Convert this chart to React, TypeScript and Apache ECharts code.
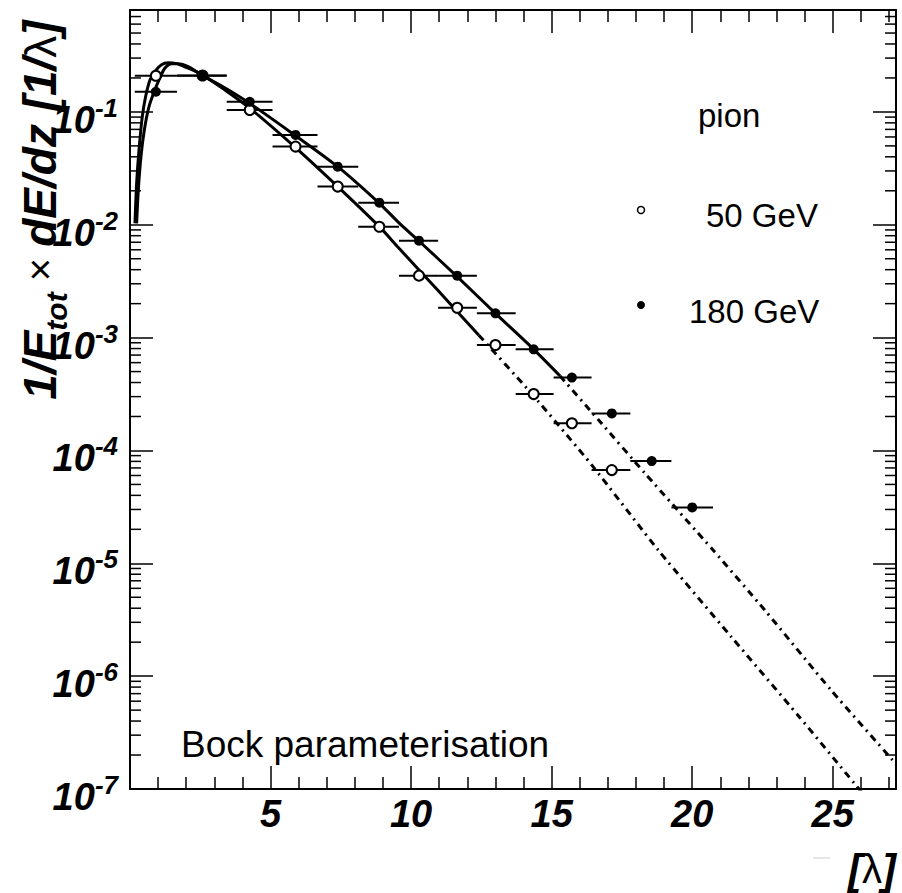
import React, { useEffect, useRef } from "react";
import * as echarts from "echarts";

// ---------- data ----------
const xTickLabels = ["5", "10", "15", "20", "25"];
const yExponents = [-7, -6, -5, -4, -3, -2, -1];
const minorMultipliers = [2, 3, 4, 5, 6, 7, 8, 9];

// bin edges (lambda) of the measured points
const binLow = [0.17, 1.67, 3.44, 5.07, 6.67, 8.12, 9.57, 10.96, 12.34, 13.72, 15.07, 16.42, 17.8, 19.26];
const binHigh = [1.67, 3.44, 5.07, 6.67, 8.12, 9.57, 10.96, 12.34, 13.72, 15.07, 16.42, 17.8, 19.26, 20.74];
const binCenter = [0.92, 2.58, 4.26, 5.89, 7.39, 8.87, 10.28, 11.64, 13.0, 14.36, 15.72, 17.14, 18.56, 20.0];

// 180 GeV (filled) data
const y180 = [0.151, 0.209, 0.123, 0.0625, 0.0327, 0.0157, 0.00723, 0.00354, 0.00164, 0.000787, 0.000442, 0.000213, 0.0000805, 0.0000313];
// 50 GeV (open) data
const y50 = [0.209, 0.21, 0.104, 0.0493, 0.0218, 0.0096, 0.00354, 0.00184, 0.000859, 0.000316, 0.000174, 0.000067];

// Bock parameterisation curves
const bock50SolidX = [0.177, 0.236, 0.32, 0.437, 0.556, 0.71, 0.887, 1.12, 1.36, 1.65, 1.95, 2.54, 3.4, 4.26, 5.85, 7.39, 8.87, 9.57, 10.96, 12.41];
const bock50SolidY = [0.0103, 0.0233, 0.046, 0.0908, 0.137, 0.192, 0.229, 0.262, 0.272, 0.268, 0.251, 0.215, 0.155, 0.108, 0.0493, 0.0218, 0.00962, 0.00619, 0.00261, 0.00105];
const bock50DotX = [12.41, 14.3, 16.43, 18.79, 21.39, 23.76, 25.77, 26.1];
const bock50DotY = [0.00105, 0.000316, 0.0000741, 0.0000131, 0.00000223, 0.000000451, 0.000000112, 0.000000089];

const bock180SolidX = [0.236, 0.296, 0.39, 0.51, 0.674, 0.887, 1.06, 1.24, 1.48, 1.71, 2.07, 2.54, 3.4, 4.26, 5.85, 7.39, 8.87, 9.57, 10.28, 11.64, 13.0, 14.36, 15.3];
const bock180SolidY = [0.0103, 0.0204, 0.0402, 0.0692, 0.111, 0.157, 0.199, 0.244, 0.267, 0.267, 0.252, 0.213, 0.162, 0.119, 0.0625, 0.0327, 0.0155, 0.0104, 0.00718, 0.00347, 0.00164, 0.000787, 0.000457];
const bock180DotX = [15.3, 16.67, 18.32, 20.74, 22.58, 24.94, 27.13, 27.25];
const bock180DotY = [0.000457, 0.000186, 0.0000627, 0.0000131, 0.00000385, 0.000000752, 0.00000018, 0.000000166];

const X_MIN = 0;
const X_MAX = 27.25;
const Y_MIN = 1e-7;
const Y_MAX = 0.8;

const FONT = '"Liberation Sans", Arial, Helvetica, sans-serif';

function zip(xs: number[], ys: number[]) {
  return xs.map((x, i) => [x, ys[i]]);
}

export default function App() {
  const ref = useRef<HTMLDivElement>(null);

  useEffect(() => {
    if (!ref.current) return;
    const chart = echarts.init(ref.current, null, { renderer: "svg" });

    const minorTicks: number[][] = [];
    yExponents.forEach((e) => {
      minorMultipliers.forEach((m) => {
        const v = m * Math.pow(10, e);
        if (v < Y_MAX) minorTicks.push([X_MIN, v]);
      });
    });

    const errBars180 = y180.map((y, i) => [binLow[i], binHigh[i], y]);
    const errBars50 = y50.map((y, i) => [binLow[i], binHigh[i], y]);

    const errRender = (params: any, api: any) => {
      const p1 = api.coord([api.value(0), api.value(2)]);
      const p2 = api.coord([api.value(1), api.value(2)]);
      return {
        type: "line",
        shape: { x1: p1[0], y1: p1[1], x2: p2[0], y2: p2[1] },
        style: { stroke: "#000", lineWidth: 2 },
      };
    };

    const xAxisBase = {
      type: "value",
      min: X_MIN,
      max: X_MAX,
      interval: 5,
      splitLine: { show: false },
      axisLine: { show: true, onZero: false, lineStyle: { color: "#000", width: 2 } },
      axisTick: { show: true, inside: true, length: 23, lineStyle: { color: "#000", width: 1.5 } },
      minorTick: { show: true, splitNumber: 5, length: 12, lineStyle: { color: "#000", width: 1.5 } },
    };

    const yAxisBase = {
      type: "log",
      logBase: 10,
      min: Y_MIN,
      max: Y_MAX,
      splitLine: { show: false },
      axisLine: { show: true, onZero: false, lineStyle: { color: "#000", width: 2 } },
      axisTick: { show: true, inside: true, length: 23, lineStyle: { color: "#000", width: 1.5 } },
    };

    const option: any = {
      animation: false,
      backgroundColor: "#fff",
      grid: { left: 130, right: 6, top: 10, bottom: 104, containLabel: false },
      xAxis: [
        {
          ...xAxisBase,
          position: "bottom",
          axisLabel: {
            show: true,
            margin: 6,
            color: "#000",
            fontFamily: FONT,
            fontSize: 38,
            fontWeight: "bold",
            fontStyle: "italic",
            formatter: (v: number) => {
              const s = String(Math.round(v));
              return Math.abs(v - Math.round(v)) < 1e-6 && xTickLabels.includes(s) ? s : "";
            },
          },
        },
        { ...xAxisBase, position: "top", axisLabel: { show: false } },
      ],
      yAxis: [
        {
          ...yAxisBase,
          position: "left",
          axisLabel: {
            show: true,
            margin: 12,
            color: "#000",
            padding: [16, 0, 0, 0],
            formatter: (v: number) => {
              const e = Math.log10(v);
              const r = Math.round(e);
              if (Math.abs(e - r) > 0.01 || !yExponents.includes(r)) return "";
              return `{b|10}{s|${r}}`;
            },
            rich: {
              b: { fontFamily: FONT, fontSize: 38, fontWeight: "bold", fontStyle: "italic", color: "#000", lineHeight: 50 },
              s: { fontFamily: FONT, fontSize: 26, fontWeight: "bold", fontStyle: "italic", color: "#000", lineHeight: 22, verticalAlign: "top" },
            },
          },
        },
        { ...yAxisBase, position: "right", axisLabel: { show: false } },
      ],
      series: [
        {
          type: "custom",
          name: "yMinor",
          silent: true,
          xAxisIndex: 0,
          yAxisIndex: 0,
          data: minorTicks,
          encode: { x: 0, y: 1 },
          clip: false,
          renderItem: (params: any, api: any) => {
            const cs = params.coordSys;
            const p = api.coord([X_MIN, api.value(1)]);
            return {
              type: "group",
              children: [
                { type: "line", shape: { x1: cs.x, y1: p[1], x2: cs.x + 11, y2: p[1] }, style: { stroke: "#000", lineWidth: 1.5 } },
                { type: "line", shape: { x1: cs.x + cs.width - 11, y1: p[1], x2: cs.x + cs.width, y2: p[1] }, style: { stroke: "#000", lineWidth: 1.5 } },
              ],
            };
          },
        },
        {
          type: "line",
          name: "Bock 50 solid",
          data: zip(bock50SolidX, bock50SolidY),
          showSymbol: false,
          smooth: 0.3,
          lineStyle: { color: "#000", width: 3 },
          z: 3,
        },
        {
          type: "line",
          name: "Bock 50 dotted",
          data: zip(bock50DotX, bock50DotY),
          showSymbol: false,
          smooth: 0.2,
          lineStyle: { color: "#000", width: 3, type: [7, 5, 2, 5] },
          z: 3,
        },
        {
          type: "line",
          name: "Bock 180 solid",
          data: zip(bock180SolidX, bock180SolidY),
          showSymbol: false,
          smooth: 0.3,
          lineStyle: { color: "#000", width: 3 },
          z: 3,
        },
        {
          type: "line",
          name: "Bock 180 dotted",
          data: zip(bock180DotX, bock180DotY),
          showSymbol: false,
          smooth: 0.2,
          lineStyle: { color: "#000", width: 3, type: [7, 5, 2, 5] },
          z: 3,
        },
        {
          type: "custom",
          name: "err50",
          data: errBars50,
          encode: { x: [0, 1], y: 2 },
          renderItem: errRender,
          z: 4,
        },
        {
          type: "custom",
          name: "err180",
          data: errBars180,
          encode: { x: [0, 1], y: 2 },
          renderItem: errRender,
          z: 4,
        },
        {
          type: "scatter",
          name: "50 GeV",
          data: zip(binCenter.slice(0, y50.length), y50),
          symbol: "circle",
          symbolSize: 10,
          itemStyle: { color: "#fff", borderColor: "#000", borderWidth: 2, opacity: 1 },
          z: 5,
        },
        {
          type: "scatter",
          name: "180 GeV",
          data: zip(binCenter, y180),
          symbol: "circle",
          symbolSize: 10,
          itemStyle: { color: "#000", opacity: 1 },
          z: 6,
        },
      ],
      graphic: [
        {
          type: "text",
          x: 40,
          y: 210,
          rotation: Math.PI / 2,
          style: {
            text: "{m|1/E}{sub|tot}{x| × }{m|dE/dz [1/}{l|λ}{m|]}",
            align: "center",
            verticalAlign: "middle",
            rich: {
              m: { fontFamily: FONT, fontSize: 46, fontWeight: "bold", fontStyle: "italic", fill: "#000", lineHeight: 62 },
              sub: { fontFamily: FONT, fontSize: 30, fontWeight: "bold", fontStyle: "italic", fill: "#000", lineHeight: 30, verticalAlign: "bottom" },
              x: { fontFamily: FONT, fontSize: 40, fill: "#000", lineHeight: 62 },
              l: { fontFamily: FONT, fontSize: 44, fill: "#000", lineHeight: 62 },
            },
          },
        },
        {
          type: "text",
          x: 896,
          y: 869,
          style: {
            text: "{m|[}{l|λ}{m|]}",
            align: "right",
            verticalAlign: "middle",
            rich: {
              m: { fontFamily: FONT, fontSize: 42, fontWeight: "bold", fontStyle: "italic", fill: "#000" },
              l: { fontFamily: FONT, fontSize: 40, fill: "#000" },
            },
          },
        },
        {
          type: "line",
          shape: { x1: 813, y1: 858, x2: 830, y2: 858 },
          style: { stroke: "#cccccc", lineWidth: 1 },
        },
        {
          type: "text",
          x: 698,
          y: 115,
          style: { text: "pion", fontFamily: FONT, fontSize: 33, fill: "#000", align: "left", verticalAlign: "middle" },
        },
        {
          type: "circle",
          shape: { cx: 641, cy: 210, r: 3.5 },
          style: { fill: "#fff", stroke: "#000", lineWidth: 1.5 },
        },
        {
          type: "text",
          x: 706,
          y: 215,
          style: { text: "50 GeV", fontFamily: FONT, fontSize: 33, fill: "#000", align: "left", verticalAlign: "middle" },
        },
        {
          type: "circle",
          shape: { cx: 641, cy: 305, r: 4 },
          style: { fill: "#000" },
        },
        {
          type: "text",
          x: 689,
          y: 311,
          style: { text: "180 GeV", fontFamily: FONT, fontSize: 33, fill: "#000", align: "left", verticalAlign: "middle" },
        },
        {
          type: "text",
          x: 181,
          y: 744,
          style: { text: "Bock parameterisation", fontFamily: FONT, fontSize: 37, fill: "#000", align: "left", verticalAlign: "middle" },
        },
      ],
    };

    chart.setOption(option);
    return () => chart.dispose();
  }, []);

  return (
    <div
      ref={ref}
      style={{ position: "fixed", left: 0, top: 0, width: 902, height: 893, background: "#fff" }}
    />
  );
}
